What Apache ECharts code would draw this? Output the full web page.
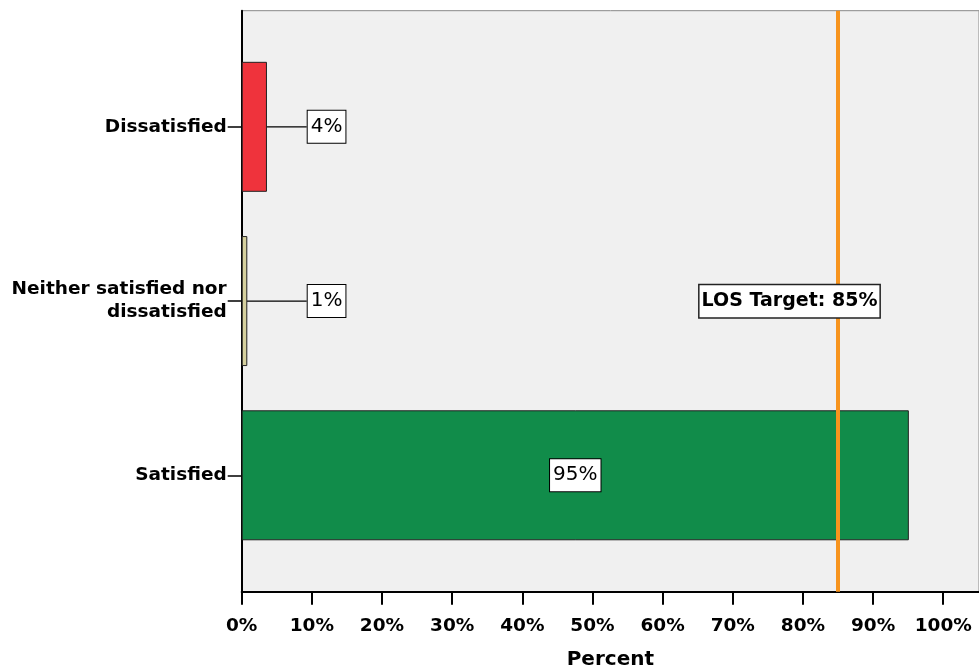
<!DOCTYPE html>
<html>
<head>
<meta charset="utf-8">
<script src="https://cdn.jsdelivr.net/npm/echarts@6/dist/echarts.min.js"></script>
<style>
  html, body { margin: 0; padding: 0; background: #fff; }
  #chart1 { width: 979px; height: 672px; }
</style>
</head>
<body>
<div id="chart1"></div>
<script>
var categories = ['Dissatisfied', 'Neither satisfied nor\ndissatisfied', 'Satisfied'];
var percentValues = [3.6, 0.8, 95.1];
var barColors = ['#ef333c', '#d5d09e', '#118c4a'];
var tickValues = [0, 10, 20, 30, 40, 50, 60, 70, 80, 90, 100];
var targetValue = 85;
var targetLabel = 'LOS Target: 85%';

var dom = document.getElementById('chart1');
var myChart = echarts.init(dom, null, { renderer: 'canvas' });

var FONT = 'DejaVu Sans';
var X_MAX = 105.1;

var boxLabel = {
  show: true,
  fontFamily: FONT,
  fontSize: 20,
  lineHeight: 20,
  color: '#000',
  backgroundColor: '#fff',
  borderColor: '#000',
  borderWidth: 1,
  padding: [6, 3],
  formatter: function (p) { return Math.round(p.value) + '%'; }
};

var barData = percentValues.map(function (v, i) {
  var item = {
    value: v,
    itemStyle: { color: barColors[i] }
  };
  if (v < 10) {
    item.label = { position: [66, '50%'], align: 'left', verticalAlign: 'middle' };
    item.labelLine = { show: true, lineStyle: { color: '#000', width: 1.2 } };
  } else {
    item.label = { position: 'inside' };
  }
  return item;
});

var option = {
  animation: false,
  grid: [
    { left: 241.7, right: 0, top: 10.7, bottom: 80.3, show: true,
      backgroundColor: '#f0f0f0', borderColor: '#888', borderWidth: 1, outerBoundsMode: 'none' },
    { left: 241.7, right: 0, top: 39.7, bottom: 109.6, outerBoundsMode: 'none' }
  ],
  xAxis: [
    {
      gridIndex: 0, type: 'value', min: 0, max: X_MAX, interval: 10,
      name: 'Percent', nameLocation: 'middle', nameGap: 58,
      nameTextStyle: { fontFamily: FONT, fontWeight: 'bold', fontSize: 20, lineHeight: 20, color: '#000' },
      axisLine: { show: true, lineStyle: { color: '#000', width: 2 } },
      axisTick: { show: true, length: 13, customValues: tickValues, lineStyle: { color: '#000', width: 2 } },
      axisLabel: { customValues: tickValues, margin: 25, fontFamily: FONT, fontWeight: 'bold', fontSize: 18.5, lineHeight: 19, color: '#000',
        formatter: function (v) { return v + '%'; } },
      splitLine: { show: false }
    },
    {
      gridIndex: 1, type: 'value', min: 0, max: X_MAX, show: false
    }
  ],
  yAxis: [
    {
      gridIndex: 0, type: 'value', min: 0, max: 1,
      axisLine: { show: true, lineStyle: { color: '#000', width: 2 } },
      axisTick: { show: false }, axisLabel: { show: false }, splitLine: { show: false }
    },
    {
      gridIndex: 1, type: 'category', data: categories, inverse: true,
      axisLine: { show: false },
      axisTick: { show: true, alignWithLabel: true, length: 14, lineStyle: { color: '#000', width: 1.5 } },
      axisLabel: { margin: 15, fontFamily: FONT, fontWeight: 'bold', fontSize: 18.5, lineHeight: 23, color: '#000' }
    }
  ],
  series: [
    {
      type: 'bar',
      xAxisIndex: 1, yAxisIndex: 1,
      barWidth: 130,
      z: 2,
      itemStyle: { borderColor: '#222', borderWidth: 1 },
      label: boxLabel,
      data: barData
    },
    {
      type: 'line',
      xAxisIndex: 0, yAxisIndex: 0,
      z: 5,
      data: [],
      markLine: {
        silent: true,
        symbol: ['none', 'none'],
        label: { show: false },
        lineStyle: { color: '#f7941e', width: 4, type: 'solid' },
        data: [{ xAxis: targetValue }]
      },
      markPoint: {
        silent: true,
        symbol: 'rect',
        symbolSize: 1,
        itemStyle: { color: 'rgba(0,0,0,0)' },
        label: {
          show: true, position: 'inside', offset: [-48.5, 0],
          formatter: targetLabel,
          fontFamily: FONT, fontWeight: 'bold', fontSize: 19, lineHeight: 20, color: '#000',
          backgroundColor: '#fff', borderColor: '#222', borderWidth: 1.5, padding: [6, 2]
        },
        data: [{ coord: [targetValue, 0.5] }]
      }
    }
  ]
};

if (option && typeof option === 'object') {
  myChart.setOption(option);
}

window.addEventListener('resize', myChart.resize);
</script>
</body>
</html>
